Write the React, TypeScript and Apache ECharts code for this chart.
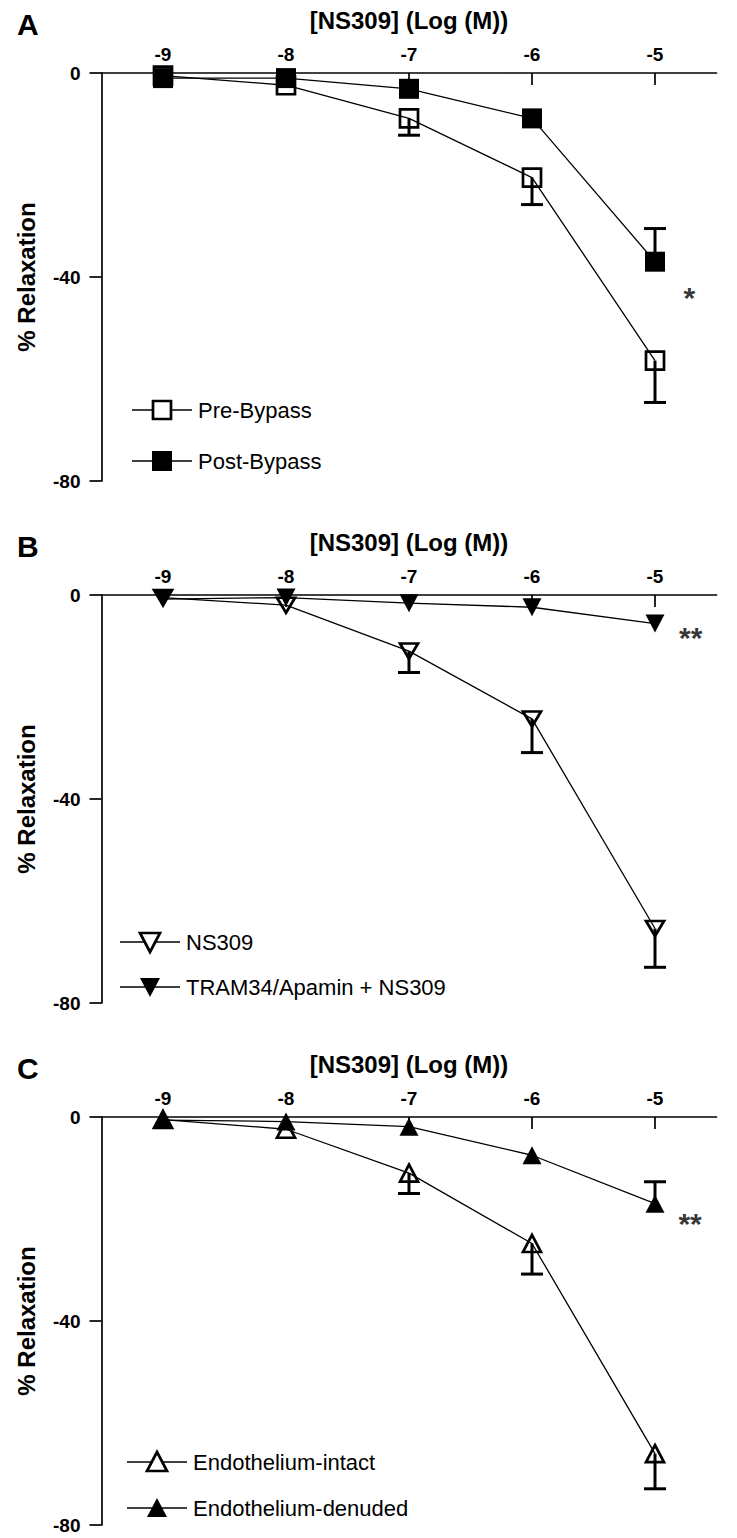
import React, { useEffect, useRef } from "react";
import * as echarts from "echarts";

const xTicks = [-9, -8, -7, -6, -5];
const yTicks = [0, -40, -80];
const xTitle = "[NS309] (Log (M))";
const yTitle = "% Relaxation";
const panelLetters = ["A", "B", "C"];

// Panel A
const preBypass = [-0.5, -2.4, -8.9, -20.5, -56.4];
const preBypassErr = [null, null, -12.2, -25.8, -64.6];
const postBypass = [-1.0, -1.0, -3.1, -8.9, -37.0];
const postBypassErr = [null, null, null, null, -30.5];
// Panel B
const ns309 = [-0.5, -2.0, -11.0, -24.3, -65.4];
const ns309Err = [null, null, -15.2, -30.9, -73.0];
const tramApamin = [-0.8, -0.5, -1.6, -2.4, -5.6];
const tramApaminErr = [null, null, null, null, null];
// Panel C
const endoIntact = [-0.5, -2.4, -11.0, -24.8, -66.0];
const endoIntactErr = [null, null, -15.0, -30.8, -72.9];
const endoDenuded = [-0.6, -0.9, -1.9, -7.5, -17.0];
const endoDenudedErr = [null, null, null, null, -12.7];

const legendA = ["Pre-Bypass", "Post-Bypass"];
const legendB = ["NS309", "TRAM34/Apamin + NS309"];
const legendC = ["Endothelium-intact", "Endothelium-denuded"];
const stars = [
  { text: "*", x: -4.72, y: -44.0 },
  { text: "**", x: -4.71, y: -8.3 },
  { text: "**", x: -4.715, y: -20.9 },
];

const FONT = "Liberation Sans, Arial, Helvetica, sans-serif";
const W = 737;
const H = 1538;
const GRID_LEFT = 101.5;
const GRID_RIGHT = 20.5;
const GRID_TOPS = [73, 595, 1117];
const GRID_H = 408;
const PANEL_OFF = 522;

type Panel = {
  open: number[];
  openErr: (number | null)[];
  filled: number[];
  filledErr: (number | null)[];
  names: string[];
  symbol: string;
  rotate: number;
  openSize: number | number[];
  filledSize: number | number[];
  legX: number;
  legY: number[];
};

const panels: Panel[] = [
  { open: preBypass, openErr: preBypassErr, filled: postBypass, filledErr: postBypassErr, names: legendA, symbol: "rect", rotate: 0, openSize: 18, filledSize: 20, legX: 132, legY: [410, 461] },
  { open: ns309, openErr: ns309Err, filled: tramApamin, filledErr: tramApaminErr, names: legendB, symbol: "triangle", rotate: 180, openSize: [18, 15], filledSize: [19, 18], legX: 120, legY: [942, 987] },
  { open: endoIntact, openErr: endoIntactErr, filled: endoDenuded, filledErr: endoDenudedErr, names: legendC, symbol: "triangle", rotate: 0, openSize: [18, 17], filledSize: [19, 18], legX: 127, legY: [1462, 1508] },
];

function errData(vals: number[], errs: (number | null)[]) {
  const out: number[][] = [];
  errs.forEach((e, i) => {
    if (e !== null) out.push([xTicks[i], vals[i], e]);
  });
  return out;
}

export default function App() {
  const ref = useRef<HTMLDivElement>(null);
  useEffect(() => {
    document.body.style.margin = "0";
    if (!ref.current) return;
    const chart = echarts.init(ref.current, null, { renderer: "svg" });

    const grids: any[] = [];
    const xAxes: any[] = [];
    const yAxes: any[] = [];
    const series: any[] = [];
    const graphics: any[] = [];

    panels.forEach((p, k) => {
      grids.push({ left: GRID_LEFT, right: GRID_RIGHT, top: GRID_TOPS[k], height: GRID_H });
      xAxes.push({
        gridIndex: k,
        type: "value",
        min: -9.5,
        max: -4.5,
        position: "top",
        name: xTitle,
        nameLocation: "middle",
        nameGap: 41,
        nameTextStyle: { fontFamily: FONT, fontWeight: "bold", fontSize: 24, color: "#000" },
        axisLine: { show: true, onZero: false, lineStyle: { color: "#000", width: 1.7 } },
        axisTick: { show: true, inside: true, length: 12, customValues: xTicks, lineStyle: { color: "#000", width: 1.7 } },
        axisLabel: { customValues: xTicks, fontFamily: FONT, fontWeight: "bold", fontSize: 19, color: "#000", margin: 9 },
        splitLine: { show: false },
      });
      yAxes.push({
        gridIndex: k,
        type: "value",
        min: -80,
        max: 0,
        interval: 40,
        name: yTitle,
        nameLocation: "middle",
        nameGap: 63,
        nameRotate: 90,
        nameTextStyle: { fontFamily: FONT, fontWeight: "bold", fontSize: 24, color: "#000" },
        axisLine: { show: true, lineStyle: { color: "#000", width: 1.7 } },
        axisTick: { show: true, length: 12, lineStyle: { color: "#000", width: 1.7 } },
        axisLabel: { fontFamily: FONT, fontWeight: "bold", fontSize: 19, color: "#000", margin: 21,
          formatter: (v: number) => (yTicks.includes(v) ? String(v) : "") },
        splitLine: { show: false },
      });

      const errSeries = (vals: number[], errs: (number | null)[], z: number) => ({
        type: "custom",
        xAxisIndex: k,
        yAxisIndex: k,
        z,
        silent: true,
        data: errData(vals, errs),
        renderItem: (params: any, api: any) => {
          const a = api.coord([api.value(0), api.value(1)]);
          const b = api.coord([api.value(0), api.value(2)]);
          return {
            type: "group",
            children: [
              { type: "line", shape: { x1: a[0], y1: a[1], x2: b[0], y2: b[1] }, style: { stroke: "#000", lineWidth: 3 } },
              { type: "line", shape: { x1: b[0] - 11, y1: b[1], x2: b[0] + 11, y2: b[1] }, style: { stroke: "#000", lineWidth: 3 } },
            ],
          };
        },
      });
      series.push(errSeries(p.open, p.openErr, 1));
      series.push(errSeries(p.filled, p.filledErr, 1));

      series.push({
        type: "line",
        name: p.names[0],
        xAxisIndex: k,
        yAxisIndex: k,
        z: 3,
        data: p.open.map((v, i) => [xTicks[i], v]),
        symbol: p.symbol,
        symbolRotate: p.rotate,
        symbolSize: p.openSize,
        showAllSymbol: true,
        lineStyle: { color: "#000", width: 1.3 },
        itemStyle: { color: "rgba(255,255,255,0)", borderColor: "#000", borderWidth: 2.7 },
      });
      series.push({
        type: "line",
        name: p.names[1],
        xAxisIndex: k,
        yAxisIndex: k,
        z: 4,
        data: p.filled.map((v, i) => [xTicks[i], v]),
        symbol: p.symbol,
        symbolRotate: p.rotate,
        symbolSize: p.filledSize,
        showAllSymbol: true,
        lineStyle: { color: "#000", width: 1.3 },
        itemStyle: { color: "#000", borderWidth: 0 },
      });
      series.push({
        type: "scatter",
        xAxisIndex: k,
        yAxisIndex: k,
        z: 5,
        symbolSize: 0,
        data: [[stars[k].x, stars[k].y]],
        label: { show: true, position: "inside", formatter: stars[k].text, fontFamily: FONT, fontWeight: "bold", fontSize: 30, color: "#000" },
      });

      // panel letter
      graphics.push({
        type: "text",
        left: 17,
        top: 9 + k * PANEL_OFF,
        style: { text: panelLetters[k], font: `bold 30px ${FONT}`, fill: "#000" },
      });

      // legend
      const legX0 = p.legX;
      p.names.forEach((name, j) => {
        const y = p.legY[j];
        const cx = legX0 + 30;
        const open = j === 0;
        const fill = open ? "#fff" : "#000";
        const lw = open ? 2.7 : 0;
        const children: any[] = [
          { type: "line", shape: { x1: legX0, y1: y, x2: legX0 + 60, y2: y }, style: { stroke: "#000", lineWidth: 1.3 } },
        ];
        if (p.symbol === "rect") {
          const s = open ? 9 : 10;
          children.push({ type: "rect", shape: { x: cx - s, y: y - s, width: 2 * s, height: 2 * s }, style: { fill, stroke: "#000", lineWidth: lw } });
        } else if (p.rotate === 180) {
          children.push({ type: "polygon", shape: { points: [[cx - 10, y - 9], [cx + 10, y - 9], [cx, y + 10]] }, style: { fill, stroke: "#000", lineWidth: lw } });
        } else {
          children.push({ type: "polygon", shape: { points: [[cx - 10, y + 9], [cx + 10, y + 9], [cx, y - 10]] }, style: { fill, stroke: "#000", lineWidth: lw } });
        }
        children.push({ type: "text", x: legX0 + 66, y, style: { text: name, font: `22px ${FONT}`, fill: "#000", textVerticalAlign: "middle", verticalAlign: "middle" } });
        graphics.push({ type: "group", children });
      });
    });

    chart.setOption({
      animation: false,
      backgroundColor: "#fff",
      grid: grids,
      xAxis: xAxes,
      yAxis: yAxes,
      series,
      graphic: graphics,
    });
    return () => chart.dispose();
  }, []);
  return <div ref={ref} style={{ width: W, height: H }} />;
}
